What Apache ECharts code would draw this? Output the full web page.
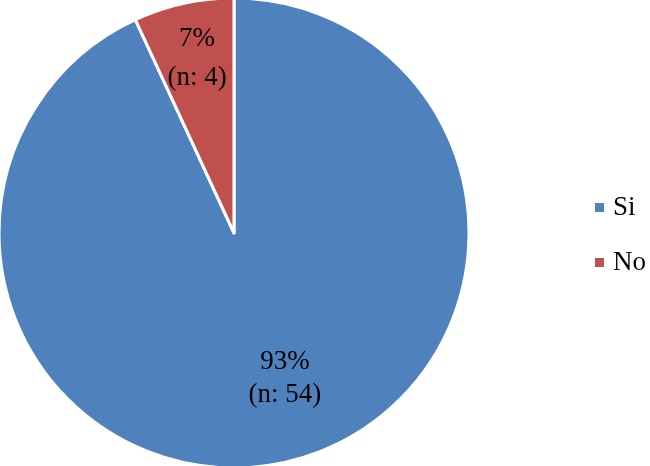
<!DOCTYPE html>
<html>
<head>
<meta charset="utf-8">
<script src="https://cdn.jsdelivr.net/npm/echarts@6/dist/echarts.min.js"></script>
<style>
  html, body { margin: 0; padding: 0; background: #fff; }
  #chart { width: 650px; height: 466px; }
</style>
</head>
<body>
<div id="chart"></div>
<script>
const categories = ["Si", "No"];
const counts = [54, 4];
const colors = ["#4F81BD", "#C0504D"];

// label nudges relative to the "inside" position, and line spacing
const labelOffsets = [[25, 28], [-11, -57]];
const labelLineHeights = [33, 39];

const total = counts.reduce((a, b) => a + b, 0);
const serif = "'Liberation Serif', 'Times New Roman', serif";

const chart = echarts.init(document.getElementById("chart"));
chart.setOption({
  animation: false,
  textStyle: { fontFamily: serif },
  legend: {
    orient: "vertical",
    left: 588,
    top: 189,
    icon: "rect",
    itemWidth: 11,
    itemHeight: 11,
    itemGap: 28,
    data: categories,
    textStyle: {
      fontFamily: serif,
      fontSize: 27,
      lineHeight: 27,
      color: "#000",
      padding: [0, 0, 0, 3],
    },
  },
  series: [
    {
      type: "pie",
      center: [234, 233],
      radius: 235,
      startAngle: 90,
      clockwise: true,
      itemStyle: { borderColor: "#fff", borderWidth: 3 },
      label: {
        show: true,
        position: "inside",
        fontFamily: serif,
        fontSize: 27,
        color: "#000",
        formatter: (p) => Math.round((p.value / total) * 100) + "%\n(n: " + p.value + ")",
      },
      emphasis: { disabled: true },
      data: categories.map((name, i) => ({
        name: name,
        value: counts[i],
        itemStyle: { color: colors[i] },
        label: { offset: labelOffsets[i], lineHeight: labelLineHeights[i] },
      })),
    },
  ],
});
</script>
</body>
</html>
